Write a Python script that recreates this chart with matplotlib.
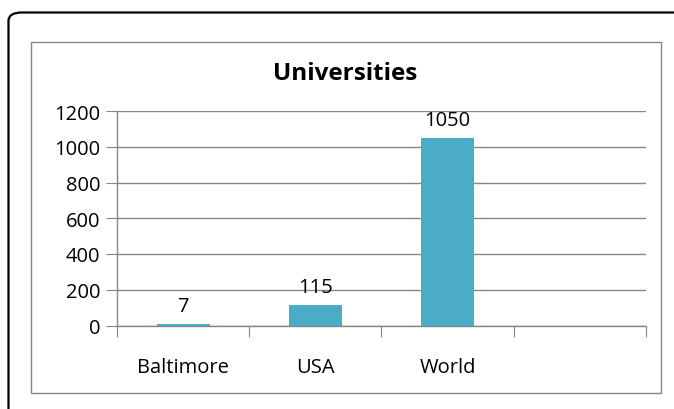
import matplotlib
matplotlib.use('Agg')
import matplotlib.pyplot as plt
from matplotlib.patches import Rectangle, FancyBboxPatch

categories = ['Baltimore', 'USA', 'World', '']
values = [7, 115, 1050]
yticks = [0, 200, 400, 600, 800, 1000, 1200]

W, H = 674, 410
plt.rcParams['font.family'] = ['Open Sans', 'DejaVu Sans']

fig = plt.figure(figsize=(W / 100, H / 100), dpi=100)

# outer rounded frame (runs off right and bottom edges)
fig.patches.append(FancyBboxPatch((8.5 / W, -0.2), 1.2, (H - 13.5) / H + 0.2,
                                  boxstyle='round,pad=0,rounding_size=0.02',
                                  transform=fig.transFigure, fill=False,
                                  edgecolor='black', linewidth=1.6))
# chart area frame
fig.patches.append(Rectangle((31.5 / W, (H - 394) / H), (661 - 31.5) / W, (394 - 43) / H,
                             transform=fig.transFigure, fill=False,
                             edgecolor='#868686', linewidth=1.0))

ax = fig.add_axes([117 / W, (H - 326.5) / H, (646 - 117) / W, (326.5 - 112) / H])
x = list(range(len(values)))
ax.bar(x, values, width=0.4, color='#4BACC6', zorder=3)
for xi, v in zip(x, values):
    ax.annotate(str(v), (xi, v), xytext=(0, 13), textcoords='offset points',
                ha='center', va='center', fontsize=14.5, color='black')

ax.set_xlim(-0.5, len(categories) - 0.5)
ax.set_ylim(0, 1200)
ax.set_yticks(yticks)
ax.set_yticklabels([str(t) for t in yticks], fontsize=14.5)
ax.set_xticks([i - 0.5 for i in range(len(categories) + 1)])
ax.set_xticklabels([])
ax.set_xticks(range(len(categories)), minor=True)
ax.set_xticklabels(categories, minor=True, fontsize=14.5)
ax.tick_params(axis='x', which='major', length=8, color='#868686', direction='out')
ax.tick_params(axis='x', which='minor', length=0, pad=23)
ax.tick_params(axis='y', length=8, color='#868686', direction='out', pad=4)
ax.grid(axis='y', color='#868686', linewidth=1.0, zorder=0)
for s in ['top', 'right']:
    ax.spines[s].set_visible(False)
for s in ['left', 'bottom']:
    ax.spines[s].set_color('#868686')
    ax.spines[s].set_linewidth(1.0)

fig.text(345 / W, (H - 74) / H, 'Universities', ha='center', va='center',
         fontsize=17.5, fontweight='bold')

fig.savefig('out.png', dpi=100)
